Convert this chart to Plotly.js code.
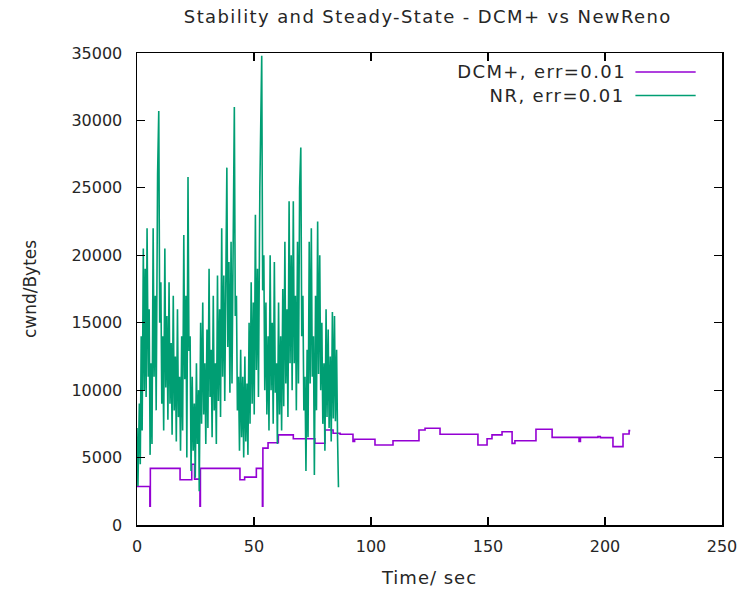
<!DOCTYPE html>
<html>
<head>
<meta charset="utf-8">
<script src="https://cdn.plot.ly/plotly-3.0.1.min.js"></script>
<style>
html,body{margin:0;padding:0;background:#fff;}
#chart{width:744px;height:589px;}
#chart .gtitle, #chart .annotation-text { letter-spacing: 1.4px; }
#chart .xtitle { letter-spacing: 1px; }
</style>
</head>
<body>
<div id="chart"></div>
<script>
// DCM+ (err=0.01) congestion window, step series
const dcmTime = [0, 5.5, 5.7, 18.4, 23.4, 24.6, 26.9, 27.1, 44, 46, 51, 53.6, 53.8, 56, 60.4, 66.8, 76, 80.3, 83.8, 86.8, 92.3, 93, 101.7, 109.4, 120.5, 123.1, 129.5, 145.7, 149.6, 151.7, 156, 160.3, 161.5, 170.5, 177.4, 188.9, 189.5, 197, 198, 203.4, 207.7, 210.3, 210.8];
const dcmCwnd = [2850, 1400, 4200, 3350, 4500, 3400, 1400, 4200, 3350, 3550, 4200, 1400, 5700, 6100, 6680, 6400, 6060, 7050, 6800, 6730, 6200, 6360, 5930, 6250, 7050, 7170, 6730, 5930, 6400, 6680, 6920, 6050, 6250, 7100, 6500, 6200, 6500, 6550, 6480, 5810, 6750, 7000, 7000];

// NewReno (err=0.01) congestion window
const nrTime = [0.0,0.4,1.0,1.4,1.8,2.2,2.7,3.1,3.5,3.9,4.3,4.8,5.2,5.6,6.0,6.4,6.9,7.3,7.8,8.2,8.8,9.3,9.7,10.2,10.6,11.0,11.4,11.9,12.3,12.8,13.2,13.7,14.1,14.6,15.0,15.5,15.9,16.4,16.8,17.3,17.7,18.2,18.6,19.1,19.5,20.0,20.4,20.9,21.3,21.8,22.2,22.7,23.1,23.6,24.0,24.5,24.9,25.4,25.8,26.3,26.6,27.2,27.6,28.1,28.5,29.0,29.4,29.9,30.3,30.8,31.2,31.7,32.1,32.6,33.0,33.5,33.9,34.4,34.8,35.3,35.7,36.2,36.6,37.1,37.5,38.0,38.4,38.8,39.3,39.7,40.2,40.6,41.1,41.6,42.0,42.5,42.9,43.4,43.8,44.3,44.7,45.2,45.6,46.1,46.5,47.0,47.4,47.9,48.3,48.8,49.2,49.7,50.1,50.6,51.0,51.5,51.9,52.5,53.3,53.7,54.2,54.6,55.1,55.5,56.0,56.4,56.9,57.3,57.8,58.2,58.7,59.1,59.6,60.0,60.5,60.9,61.4,61.8,62.3,62.7,63.2,63.6,64.1,64.5,65.0,65.4,65.9,66.3,66.8,67.2,67.7,68.1,68.6,69.0,69.5,70.0,70.4,70.9,71.3,71.8,72.2,72.7,73.1,73.6,74.0,74.5,74.9,75.4,75.8,76.3,76.7,77.2,77.6,78.1,78.5,79.0,79.4,79.9,80.3,80.8,81.2,81.7,82.1,82.6,83.0,83.5,83.9,84.4,84.8,85.3,85.7,86.1];
const nrCwnd = [7200,2900,9000,4500,14000,7000,20500,10000,19000,9500,22000,11000,16000,5200,12000,6000,22000,11000,17000,8500,26000,30700,15000,18000,9000,14000,7000,20500,10200,15500,7800,18000,9000,13500,6700,17000,8500,12500,6200,16000,8000,11000,5500,14000,7000,21500,10800,17000,5000,25800,12900,14000,4000,11000,5500,9000,3500,12000,6000,10000,2500,15000,7500,16500,8200,12000,6000,14500,7200,19000,9500,13000,6500,17000,8500,12000,6000,18500,9200,16000,8000,22000,11000,18500,9200,22500,26500,13200,19500,9800,21000,10500,24000,31000,15500,17000,8500,11000,5500,13000,6500,11000,5000,12500,6200,10500,5200,15000,7500,18000,9000,16500,8200,23000,11500,19000,9500,25000,34800,17400,20000,10000,16500,8200,14000,7000,20000,10000,15000,7500,19500,9800,12000,6000,16500,8200,14000,7000,17500,8800,21000,10500,16000,8000,24000,12000,20000,10000,24000,12000,17000,8500,21000,10500,25000,28000,14000,17000,8500,11000,4000,13000,6500,21000,10500,22000,11000,14000,3700,17000,8500,22500,11200,20000,10000,15000,7500,12000,5500,16000,8000,14500,7200,12500,6200,15800,7900,15500,7700,13000,6500,2800];

const seriesNames = ["DCM+, err=0.01", "NR, err=0.01"];
const seriesColors = ["#9400d3", "#009e73"];
const xTicks = [0, 50, 100, 150, 200, 250];
const yTicks = [0, 5000, 10000, 15000, 20000, 25000, 30000, 35000];

const traces = [
  {x: dcmTime, y: dcmCwnd, type: 'scatter', mode: 'lines', name: seriesNames[0],
   line: {color: seriesColors[0], width: 1.6, shape: 'hv'}, showlegend: false},
  {x: nrTime, y: nrCwnd, type: 'scatter', mode: 'lines', name: seriesNames[1],
   line: {color: seriesColors[1], width: 1.6}, showlegend: false}
];

const fontFam = 'DejaVu Sans, sans-serif';
const txtCol = '#262626';
const axisCommon = {
  showline: true, linecolor: '#000', linewidth: 1.5, mirror: 'ticks',
  ticks: 'inside', ticklen: 8, tickwidth: 1.2, tickcolor: '#000',
  showgrid: false, zeroline: false,
  tickfont: {family: fontFam, size: 16, color: txtCol}
};

const layout = {
  width: 744, height: 589,
  margin: {l: 137, r: 22, t: 53, b: 64},
  paper_bgcolor: '#fff', plot_bgcolor: '#fff',
  title: {text: 'Stability and Steady-State - DCM+ vs NewReno', x: 0.575, xanchor: 'center', y: 0.971, yanchor: 'middle',
          font: {family: fontFam, size: 18, color: txtCol}},
  xaxis: Object.assign({}, axisCommon, {range: [0, 250], tickvals: xTicks, ticktext: xTicks.map(String),
          ticklabelstandoff: 6,
          title: {text: 'Time/ sec', font: {family: fontFam, size: 18, color: txtCol}, standoff: 16}}),
  yaxis: Object.assign({}, axisCommon, {range: [0, 35000], tickvals: yTicks, ticktext: yTicks.map(String),
          ticklabelstandoff: 10,
          title: {text: 'cwnd/Bytes', font: {family: fontFam, size: 17, color: txtCol}, standoff: 30}}),
  annotations: [
    {xref: 'paper', yref: 'paper', x: 0.822, y: 0.960, xanchor: 'right', yanchor: 'middle', showarrow: false,
     text: seriesNames[0], font: {family: fontFam, size: 18, color: txtCol}},
    {xref: 'paper', yref: 'paper', x: 0.822, y: 0.910, xanchor: 'right', yanchor: 'middle', showarrow: false,
     text: seriesNames[1], font: {family: fontFam, size: 18, color: txtCol}}
  ],
  shapes: [
    {type: 'line', xref: 'paper', yref: 'paper', x0: 0.852, x1: 0.955, y0: 0.960, y1: 0.960, line: {color: seriesColors[0], width: 1.5}},
    {type: 'line', xref: 'paper', yref: 'paper', x0: 0.852, x1: 0.955, y0: 0.910, y1: 0.910, line: {color: seriesColors[1], width: 1.5}}
  ]
};

Plotly.newPlot('chart', traces, layout, {displayModeBar: false, staticPlot: true});
</script>
</body>
</html>
